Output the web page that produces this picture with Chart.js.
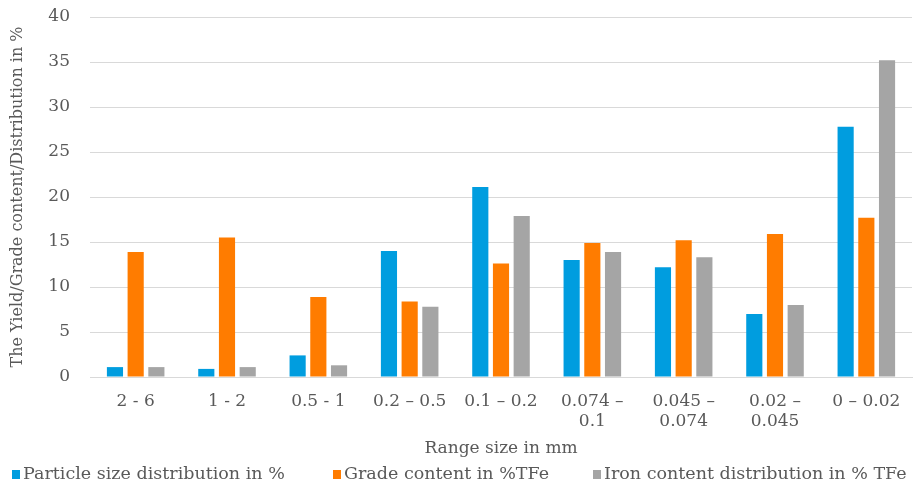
<!DOCTYPE html>
<html>
<head>
<meta charset="utf-8">
<script src="https://cdn.jsdelivr.net/npm/chart.js@4"></script>
<style>
  html, body { margin: 0; padding: 0; background: #fff; }
  #wrap { width: 914px; height: 485px; }
</style>
</head>
<body>
<div id="wrap"><canvas id="chart" width="914" height="485"></canvas></div>
<script>
const categories = [
  "2 - 6", "1 - 2", "0.5 - 1", "0.2 – 0.5", "0.1 – 0.2",
  ["0.074 –", "0.1"], ["0.045 –", "0.074"], ["0.02 –", "0.045"], "0 – 0.02"
];
const particleSize = [1.1, 0.9, 2.4, 14.0, 21.1, 13.0, 12.2, 7.0, 27.8];
const gradeContent = [13.9, 15.5, 8.9, 8.4, 12.6, 14.9, 15.2, 15.9, 17.7];
const ironContent = [1.1, 1.1, 1.3, 7.8, 17.9, 13.9, 13.3, 8.0, 35.2];

const textColor = "#595959";
const fontFamily = "'DejaVu Serif', serif";

// legend drawn by hand so the items can sit as far apart as in the original
const legendX = [12, 333, 593];
const wideLegend = {
  id: "wideLegend",
  afterDraw(chart) {
    const c = chart.ctx;
    const y = 474;
    c.save();
    c.font = "17.5px " + fontFamily;
    c.textBaseline = "middle";
    chart.data.datasets.forEach((ds, i) => {
      const x = legendX[i];
      c.fillStyle = ds.backgroundColor;
      c.fillRect(x, y - 4, 8, 9);
      c.fillStyle = textColor;
      c.fillText(ds.label, x + 11, y);
    });
    c.restore();
  }
};

const ctx = document.getElementById("chart").getContext("2d");

new Chart(ctx, {
  type: "bar",
  data: {
    labels: categories,
    datasets: [
      {
        label: "Particle size distribution in %",
        data: particleSize,
        backgroundColor: "#009ddf"
      },
      {
        label: "Grade content in %TFe",
        data: gradeContent,
        backgroundColor: "#ff7c00"
      },
      {
        label: "Iron content distribution in % TFe",
        data: ironContent,
        backgroundColor: "#a5a5a5"
      }
    ]
  },
  plugins: [wideLegend],
  options: {
    responsive: false,
    animation: false,
    datasets: {
      bar: { barPercentage: 0.78, categoryPercentage: 0.68 }
    },
    layout: { padding: { left: 0, right: 2, top: 17, bottom: 26 } },
    plugins: {
      legend: { display: false },
      tooltip: { enabled: false }
    },
    scales: {
      x: {
        grid: { display: false, drawTicks: false },
        border: { color: "#d9d9d9" },
        ticks: {
          color: textColor,
          font: { family: fontFamily, size: 17 },
          maxRotation: 0,
          autoSkip: false,
          padding: 14
        },
        title: {
          display: true,
          text: "Range size in mm",
          color: textColor,
          font: { family: fontFamily, size: 17 },
          padding: { top: 0, bottom: 0 }
        },
        afterFit(scale) {
          scale.height = 82;
          scale.paddingLeft = 0;
          scale.paddingRight = 0;
        }
      },
      y: {
        min: 0,
        max: 40,
        ticks: {
          stepSize: 5,
          color: textColor,
          font: { family: fontFamily, size: 17 },
          padding: 20
        },
        grid: { color: "#d9d9d9", drawTicks: false },
        border: { display: false },
        title: {
          display: true,
          text: "The Yield/Grade content/Distribution in %",
          color: textColor,
          font: { family: fontFamily, size: 16 },
          padding: { top: 8, bottom: 20 }
        },
        afterFit(scale) {
          scale.width = 90;
          scale.paddingTop = 0;
          scale.paddingBottom = 0;
        }
      }
    }
  }
});
</script>
</body>
</html>
